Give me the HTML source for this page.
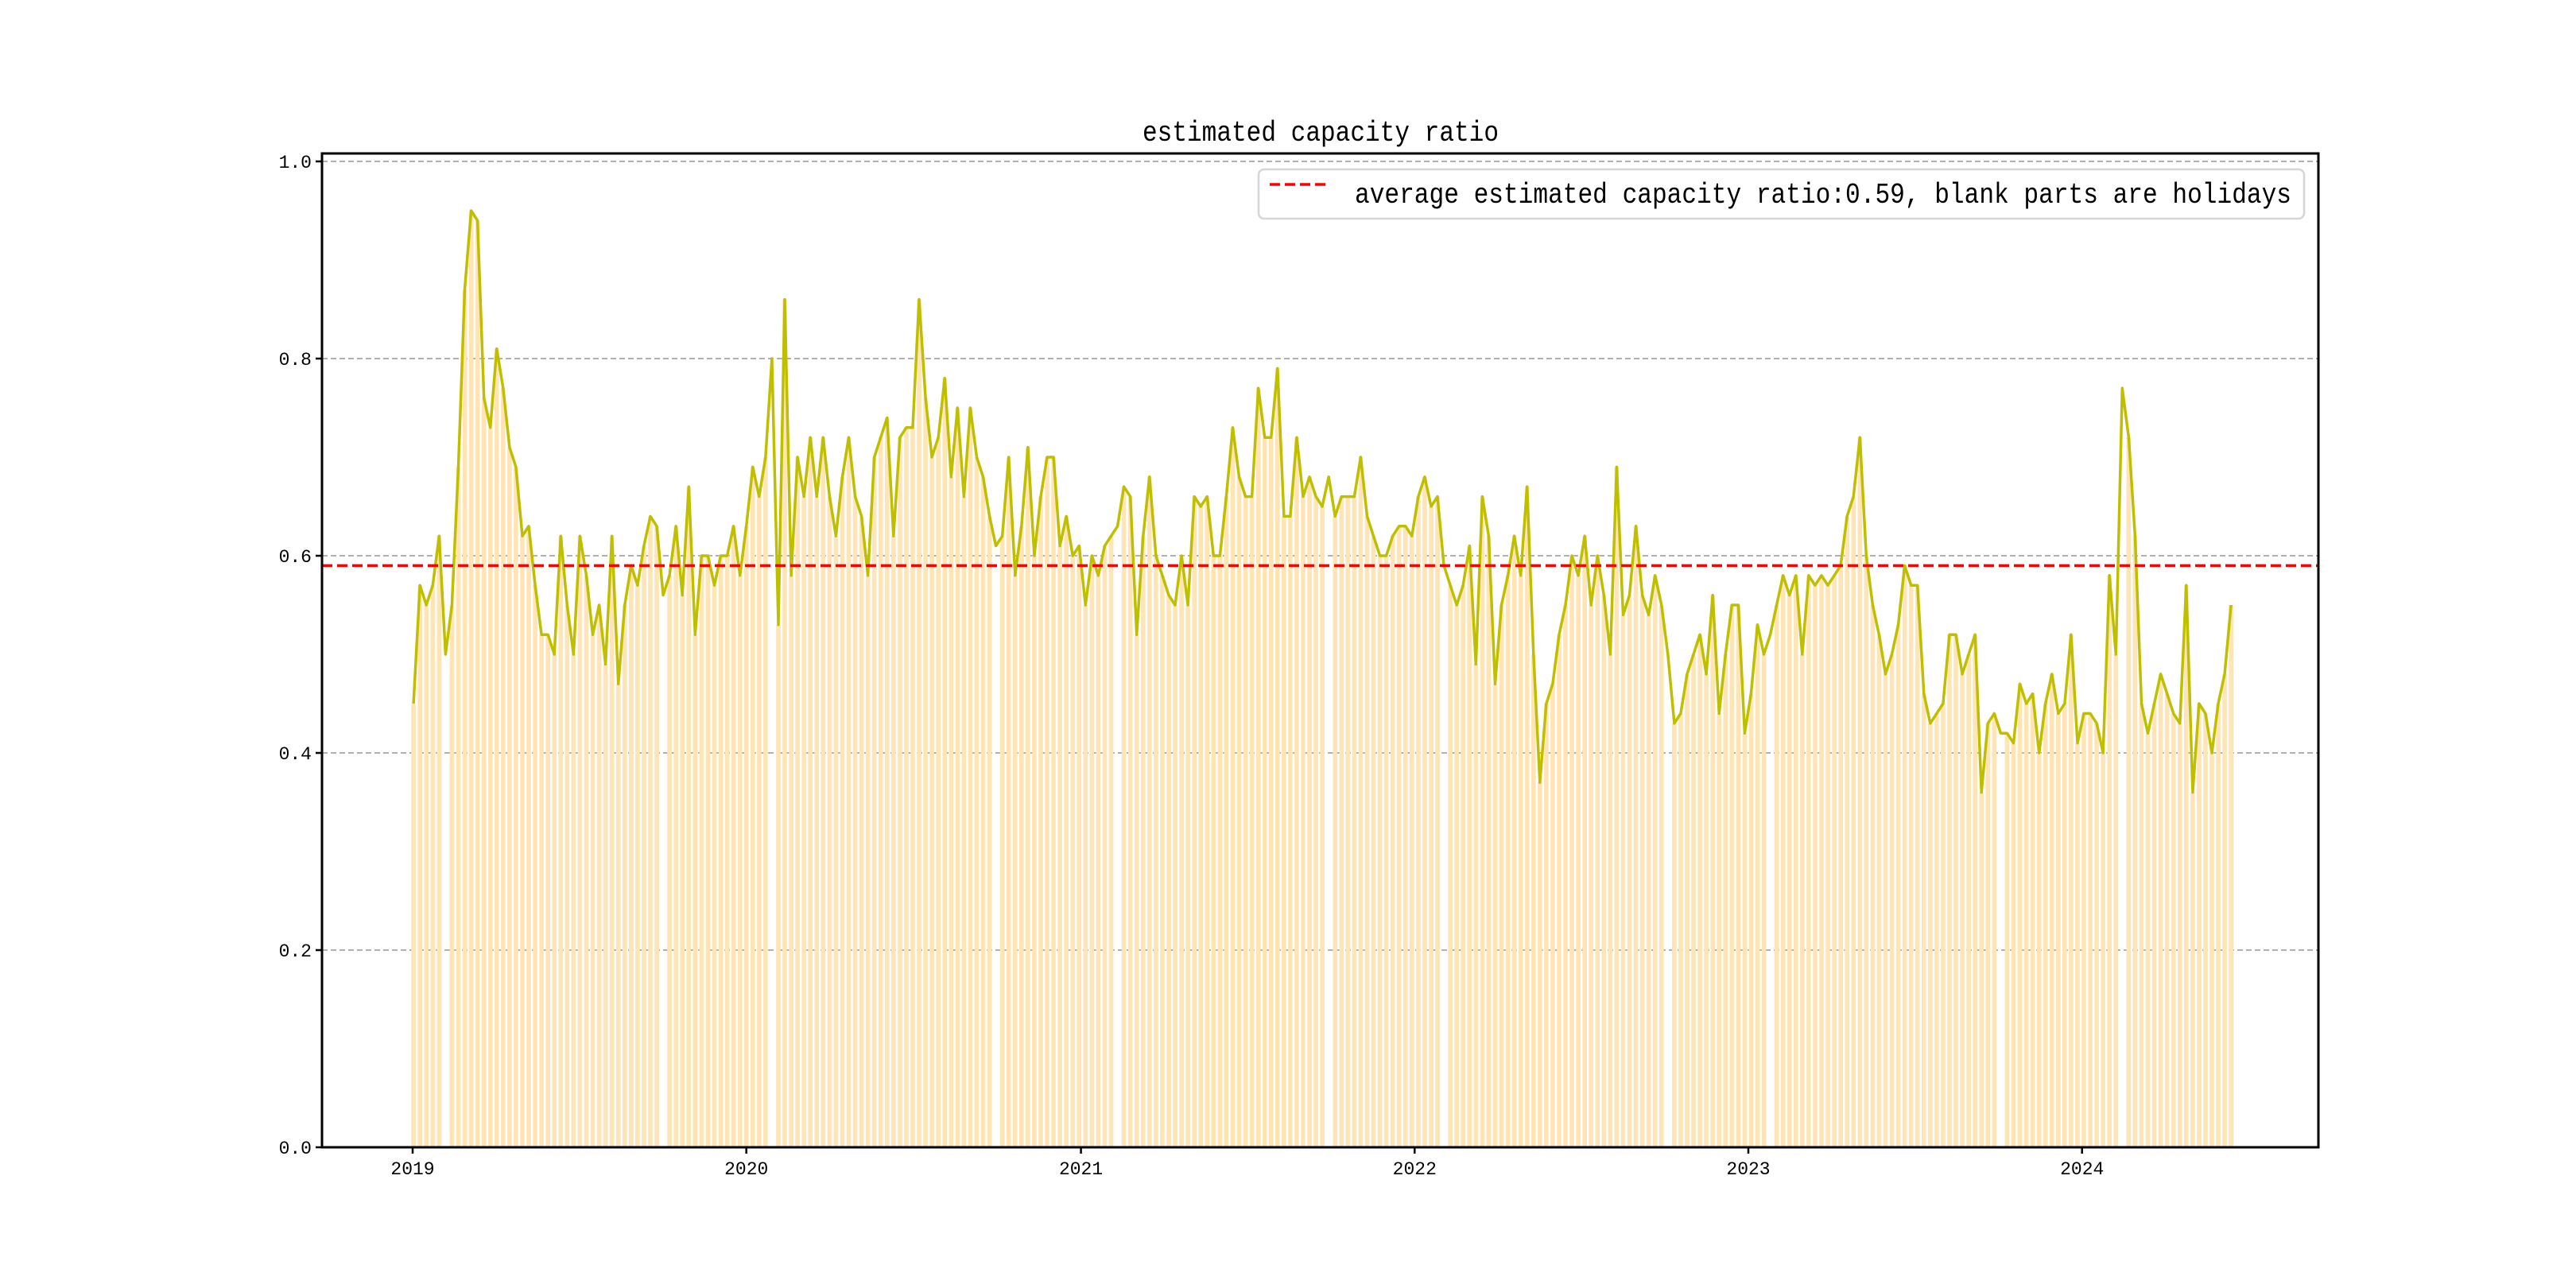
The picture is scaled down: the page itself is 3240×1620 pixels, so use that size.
<!DOCTYPE html>
<html><head><meta charset="utf-8"><style>
html,body{margin:0;padding:0;background:#fff;}
svg{display:block;font-family:"Liberation Mono","WenQuanYi Zen Hei",monospace;}
</style></head><body>
<svg id="chart" width="3240" height="1620" xmlns="http://www.w3.org/2000/svg">
<rect width="3240" height="1620" fill="#fff"/>
<g id="grid"></g>
<g id="bars"></g>
<g id="lines"></g>
<rect x="405" y="193" width="2511" height="1250" fill="none" stroke="#000" stroke-width="3"/>
<g id="axes"></g>
<text x="1661" y="177" font-size="36" text-anchor="middle" textLength="448" lengthAdjust="spacingAndGlyphs">estimated capacity ratio</text>
<g>
<rect x="1583" y="213" width="1315" height="62" rx="7" fill="#fff" fill-opacity="0.8" stroke="#d6d6d6" stroke-width="2.5"/>
<line x1="1597" y1="232" x2="1669" y2="232" stroke="#ff0000" stroke-width="3.5" stroke-dasharray="13,6"/>
<text x="1704" y="255" font-size="36" textLength="1178" lengthAdjust="spacingAndGlyphs">average estimated capacity ratio:0.59, blank parts are holidays</text>
</g>
</svg>
<script>
const startDate = "2019-01-02";
const values = [
0.45,0.57,0.55,0.57,0.62,0.50,0.55,0.69,0.87,0.95,0.94,0.76,0.73,0.81,0.77,0.71,0.69,0.62,0.63,0.57,0.52,0.52,0.50,0.62,0.55,0.50,0.62,0.58,0.52,0.55,0.49,0.62,0.47,0.55,0.59,0.57,0.61,0.64,0.63,0.56,0.58,0.63,0.56,0.67,0.52,0.60,0.60,0.57,0.60,0.60,0.63,0.58,
0.63,0.69,0.66,0.70,0.80,0.53,0.86,0.58,0.70,0.66,0.72,0.66,0.72,0.66,0.62,0.68,0.72,0.66,0.64,0.58,0.70,0.72,0.74,0.62,0.72,0.73,0.73,0.86,0.76,0.70,0.72,0.78,0.68,0.75,0.66,0.75,0.70,0.68,0.64,0.61,0.62,0.70,0.58,0.63,0.71,0.60,0.66,0.70,0.70,0.61,0.64,0.60,
0.61,0.55,0.60,0.58,0.61,0.62,0.63,0.67,0.66,0.52,0.62,0.68,0.60,0.58,0.56,0.55,0.60,0.55,0.66,0.65,0.66,0.60,0.60,0.66,0.73,0.68,0.66,0.66,0.77,0.72,0.72,0.79,0.64,0.64,0.72,0.66,0.68,0.66,0.65,0.68,0.64,0.66,0.66,0.66,0.70,0.64,0.62,0.60,0.60,0.62,0.63,0.63,0.62,
0.66,0.68,0.65,0.66,0.59,0.57,0.55,0.57,0.61,0.49,0.66,0.62,0.47,0.55,0.58,0.62,0.58,0.67,0.50,0.37,0.45,0.47,0.52,0.55,0.60,0.58,0.62,0.55,0.60,0.56,0.50,0.69,0.54,0.56,0.63,0.56,0.54,0.58,0.55,0.50,0.43,0.44,0.48,0.50,0.52,0.48,0.56,0.44,0.50,0.55,0.55,0.42,
0.46,0.53,0.50,0.52,0.55,0.58,0.56,0.58,0.50,0.58,0.57,0.58,0.57,0.58,0.59,0.64,0.66,0.72,0.60,0.55,0.52,0.48,0.50,0.53,0.59,0.57,0.57,0.46,0.43,0.44,0.45,0.52,0.52,0.48,0.50,0.52,0.36,0.43,0.44,0.42,0.42,0.41,0.47,0.45,0.46,0.40,0.45,0.48,0.44,0.45,0.52,0.41,
0.44,0.44,0.43,0.40,0.58,0.50,0.77,0.72,0.62,0.45,0.42,0.45,0.48,0.46,0.44,0.43,0.57,0.36,0.45,0.44,0.40,0.45,0.48,0.55
];
const holidayIdx = [5,39,56,91,110,143,161,196,212,248,267];
const meanValue = 0.59;
const yTicks = [0.0,0.2,0.4,0.6,0.8,1.0];
const yTickLabels = ["0.0","0.2","0.4","0.6","0.8","1.0"];
const xTickYears = [2019,2020,2021,2022,2023,2024];

const NS="http://www.w3.org/2000/svg";
const L=405,R=2916,T=193,B=1443;
const t0=Date.UTC(2019,0,1), yearPx=420, dayMs=86400000;
function xScale(ms){return 519+(ms-t0)/dayMs*yearPx/365.25;}
function yScale(v){return 1443-v*1240;}
function mk(tag,attrs,parent){const e=document.createElementNS(NS,tag);for(const k in attrs)e.setAttribute(k,attrs[k]);parent.appendChild(e);return e;}
const sd=new Date(startDate+"T00:00:00Z").getTime();
const dates=values.map((v,i)=>sd+i*7*dayMs);
const grid=document.getElementById('grid'),bars=document.getElementById('bars'),lines=document.getElementById('lines'),axes=document.getElementById('axes');
yTicks.forEach((v,i)=>{
  if(v>0){const g=mk('line',{x1:L,x2:R,y1:yScale(v),y2:yScale(v),stroke:'#b0b0b0','stroke-width':2,'stroke-dasharray':'7,4'},grid);
  
  }
  const tk=mk('line',{x1:L-8,x2:L,y1:yScale(v),y2:yScale(v),stroke:'#000','stroke-width':2.5},axes);
  
  
  const tx=mk('text',{x:L-13,y:yScale(v)+8,'font-size':23,'text-anchor':'end'},axes);
  
  
  tx.textContent=yTickLabels[i];
});
xTickYears.forEach(yr=>{
  const x=xScale(Date.UTC(yr,0,1));
  const tk=mk('line',{x1:x,x2:x,y1:B,y2:B+8,stroke:'#000','stroke-width':2.5},axes);
  
  
  const tx=mk('text',{x:x,y:B+34,'font-size':23,'text-anchor':'middle'},axes);
  
  
  tx.textContent=String(yr);
});
values.forEach((v,i)=>{
  if(holidayIdx.indexOf(i)>=0)return;
  const x=xScale(dates[i]);
  const b=mk('rect',{x:x-2.8,y:yScale(v),width:5.6,height:B-yScale(v),fill:'#ffe4b5'},bars);
  
  
});
const pts=values.map((v,i)=>xScale(dates[i]).toFixed(1)+','+yScale(v).toFixed(1)).join(' ');
const pl=mk('polyline',{points:pts,fill:'none',stroke:'#bfbf00','stroke-width':3.5,'stroke-linejoin':'round'},lines);


const ml=mk('line',{x1:L,x2:R,y1:yScale(meanValue),y2:yScale(meanValue),stroke:'#ff0000','stroke-width':3.5,'stroke-dasharray':'13,6'},lines);


</script>
</body></html>
